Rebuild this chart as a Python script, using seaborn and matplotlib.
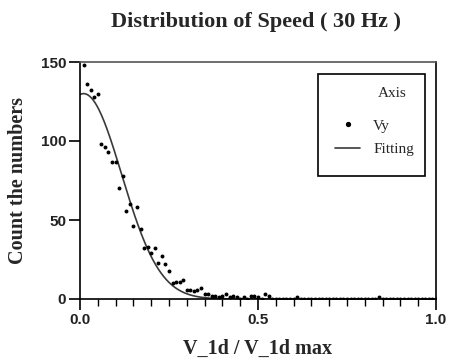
import numpy as np
import pandas as pd
import matplotlib
matplotlib.use("Agg")
import matplotlib.pyplot as plt
import seaborn as sns
from matplotlib.ticker import MultipleLocator
from matplotlib.lines import Line2D
from matplotlib.patches import Rectangle

# ---- data ----
speed_ratio = [round(0.01 * k, 2) for k in range(1, 101)]
counts = [148, 136, 132, 128, 130, 98, 96, 93, 87, 87,
          70, 78, 56, 60, 46, 58, 44, 32, 33, 29,
          32, 23, 27, 22, 18, 10, 11, 11, 12, 6,
          6, 5, 6, 7, 3, 3, 2, 2, 1, 2,
          3, 1, 2, 1, 0, 1, 0, 2, 2, 1,
          0, 3, 2, 0, 0, 0, 0, 0, 0, 0,
          1.5, 0, 0, 0, 0, 0, 0, 0, 0, 0,
          0, 0, 0, 0, 0, 0, 0, 0, 0, 0,
          0, 0, 0, 1.5, 0, 0, 0, 0, 0, 0,
          0, 0, 0, 0, 0, 0, 0, 0, 0, 0]
# Gaussian fit parameters (amplitude, centre, width)
fit_amp = 130.0
fit_xc = 0.01
fit_w = 0.107

x_ticks = [0.0, 0.5, 1.0]
y_ticks = [0, 50, 100, 150]
series_labels = ["Vy", "Fitting"]
legend_title = "Axis"

df_pts = pd.DataFrame({"x": speed_ratio, "y": counts})
xf = np.linspace(0, 1, 400)
df_fit = pd.DataFrame({"x": xf, "y": fit_amp * np.exp(-(xf - fit_xc) ** 2 / (2 * fit_w ** 2))})

sns.set_theme(style="ticks")
plt.rcParams["font.family"] = ["Liberation Serif", "DejaVu Serif"]

fig = plt.figure(figsize=(4.5, 3.63), dpi=100)
ax = fig.add_axes([80 / 450, 1 - 299 / 363, 356 / 450, 237 / 363])

sns.scatterplot(data=df_pts, x="x", y="y", ax=ax, color="black", s=8,
                linewidth=0, legend=False, zorder=3)
sns.lineplot(data=df_fit, x="x", y="y", ax=ax, color="#3a3a3a", linewidth=1.2,
             legend=False, zorder=2)

ax.set_xlim(0, 1.0)
ax.set_ylim(0, 150)
ax.set_xticks(x_ticks)
ax.set_xticklabels(["0.0", "0.5", "1.0"])
ax.set_yticks(y_ticks)
ax.xaxis.set_minor_locator(MultipleLocator(0.05))

for s in ax.spines.values():
    s.set_visible(True)
    s.set_linewidth(1.2)
    s.set_color("black")
ax.spines["top"].set_color("#555555")

ax.tick_params(axis="both", which="major", direction="out", length=8, width=1.2,
               color="black", pad=2)
ax.tick_params(axis="x", which="minor", direction="out", length=5, width=1.0,
               color="black")
ax.tick_params(axis="y", which="minor", length=0)
ax.tick_params(top=False, right=False)
for lab in ax.get_xticklabels() + ax.get_yticklabels():
    lab.set_fontfamily("Liberation Sans")
    lab.set_fontweight("bold")
    lab.set_fontsize(11)
    lab.set_color("#222222")

ax.set_xlabel("V_1d / V_1d max", fontsize=14.5, fontweight="bold", labelpad=9)
ax.set_ylabel("Count the numbers", fontsize=14.5, fontweight="bold", labelpad=9)
fig.text(256 / 450, 1 - 22 / 363, "Distribution of Speed ( 30 Hz )",
         ha="center", va="center", fontsize=16, fontweight="bold")

# legend: frame, title and entries
ax.add_patch(Rectangle((0.669, 0.519), 0.300, 0.430, transform=ax.transAxes,
                       fill=True, facecolor="white", edgecolor="black",
                       linewidth=1.2, zorder=5))
ax.text(0.876, 0.869, legend_title, transform=ax.transAxes, ha="center",
        va="center", fontsize=11, zorder=6)
handles = [Line2D([], [], marker="o", color="black", linestyle="none", markersize=2.8),
           Line2D([], [], color="#3a3a3a", linewidth=1.2)]
leg = ax.legend(handles, series_labels, loc="upper left",
                bbox_to_anchor=((335 - 80) / 356, (299 - 119) / 237),
                fontsize=11, frameon=False, borderpad=0, borderaxespad=0,
                handlelength=1.65, handletextpad=0.85, labelspacing=0.65)
leg.set_zorder(7)

fig.savefig("out.png", dpi=100, facecolor="white")
